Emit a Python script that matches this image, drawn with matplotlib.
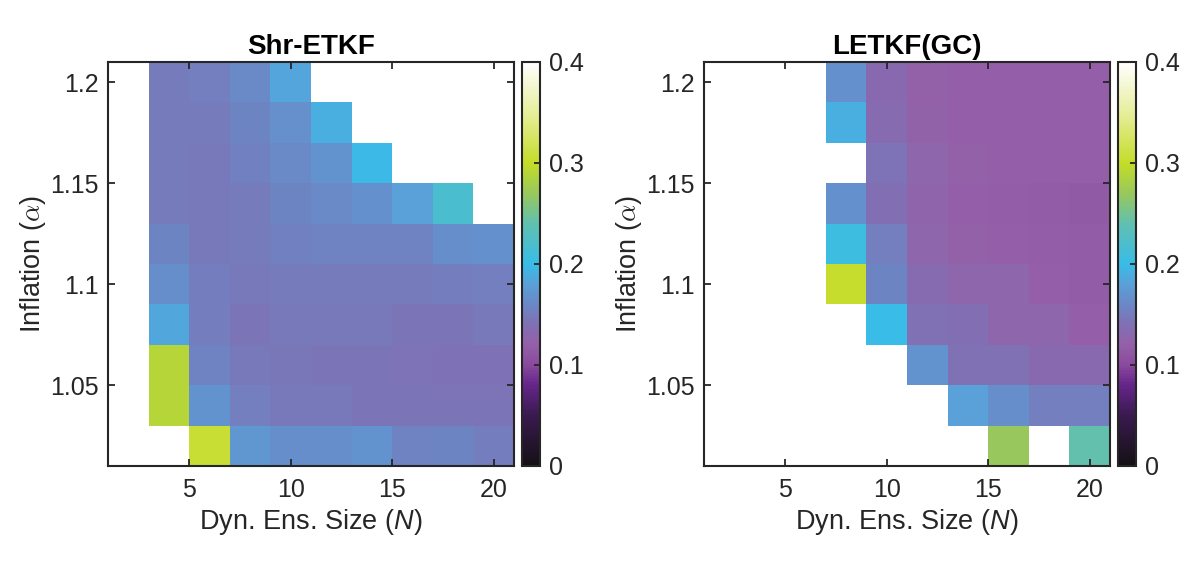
import numpy as np
import matplotlib
matplotlib.use("Agg")
import matplotlib.pyplot as plt
from matplotlib.colors import LinearSegmentedColormap

plt.rcParams["font.family"] = ["Liberation Sans", "DejaVu Sans"]
plt.rcParams["mathtext.fontset"] = "custom"
plt.rcParams["mathtext.it"] = "Liberation Sans:italic"
plt.rcParams["mathtext.rm"] = "Liberation Sans"

# grid: dynamic ensemble size and inflation factor
ens_size = [2, 4, 6, 8, 10, 12, 14, 16, 18, 20]
inflation = [1.02, 1.04, 1.06, 1.08, 1.10, 1.12, 1.14, 1.16, 1.18, 1.20]
nan = np.nan

# rows follow inflation (1.02 first), columns follow ens_size
shr_etkf = [
    [nan, nan, 0.305, 0.172, 0.165, 0.165, 0.170, 0.155, 0.157, 0.151],
    [nan, 0.290, 0.170, 0.153, 0.148, 0.147, 0.145, 0.145, 0.145, 0.145],
    [nan, 0.290, 0.155, 0.147, 0.146, 0.145, 0.144, 0.143, 0.142, 0.142],
    [nan, 0.185, 0.151, 0.145, 0.147, 0.147, 0.147, 0.145, 0.145, 0.147],
    [nan, 0.165, 0.151, 0.147, 0.149, 0.149, 0.150, 0.150, 0.151, 0.152],
    [nan, 0.157, 0.148, 0.149, 0.154, 0.156, 0.156, 0.156, 0.165, 0.168],
    [nan, 0.149, 0.147, 0.149, 0.157, 0.161, 0.168, 0.180, 0.218, nan],
    [nan, 0.150, 0.148, 0.154, 0.161, 0.170, 0.198, nan, nan, nan],
    [nan, 0.149, 0.149, 0.157, 0.166, 0.190, nan, nan, nan, nan],
    [nan, 0.150, 0.152, 0.161, 0.183, nan, nan, nan, nan, nan],
]

letkf_gc = [
    [nan, nan, nan, nan, nan, nan, nan, 0.270, nan, 0.242],
    [nan, nan, nan, nan, nan, nan, 0.180, 0.165, 0.153, 0.152],
    [nan, nan, nan, nan, nan, 0.170, 0.140, 0.140, 0.132, 0.132],
    [nan, nan, nan, nan, 0.200, 0.140, 0.138, 0.128, 0.128, 0.120],
    [nan, nan, nan, 0.302, 0.157, 0.133, 0.128, 0.128, 0.120, 0.117],
    [nan, nan, nan, 0.205, 0.152, 0.128, 0.121, 0.120, 0.118, 0.117],
    [nan, nan, nan, 0.168, 0.138, 0.125, 0.120, 0.118, 0.116, 0.115],
    [nan, nan, nan, nan, 0.143, 0.127, 0.121, 0.120, 0.120, 0.120],
    [nan, nan, nan, 0.190, 0.133, 0.122, 0.120, 0.120, 0.120, 0.119],
    [nan, nan, nan, 0.168, 0.132, 0.121, 0.120, 0.120, 0.120, 0.120],
]

titles = ["Shr-ETKF", "LETKF(GC)"]
cbar_ticks = [0, 0.1, 0.2, 0.3, 0.4]

# black -> purple -> blue -> cyan -> yellow-green -> white
anchors = [
    (0.00, "#141014"), (0.05, "#3a1a50"), (0.08, "#66268a"), (0.10, "#8a4a9e"),
    (0.12, "#9460a8"), (0.14, "#8070b4"), (0.16, "#6a88c6"), (0.18, "#5aa0d8"),
    (0.20, "#38bce8"), (0.24, "#60c0b0"), (0.27, "#98c85c"), (0.30, "#c4dc28"),
    (0.35, "#e6ee9a"), (0.40, "#ffffff"),
]
cmap = LinearSegmentedColormap.from_list("rmse", [(v / 0.4, c) for v, c in anchors])
cmap.set_bad("white")

fig = plt.figure(figsize=(12, 5.75), dpi=100)
ax_rects = [[0.09, 0.1896, 0.3383, 0.7026], [0.5867, 0.1896, 0.3383, 0.7026]]
cb_rects = [[0.4354, 0.1896, 0.015, 0.7026], [0.932, 0.1896, 0.015, 0.7026]]

x_edges = np.append(np.array(ens_size) - 1, ens_size[-1] + 1)
y_edges = np.append(np.array(inflation) - 0.01, inflation[-1] + 0.01)
tick_col = "#262626"

for data, title, rect, cb_rect in zip([shr_etkf, letkf_gc], titles, ax_rects, cb_rects):
    ax = fig.add_axes(rect)
    z = np.ma.masked_invalid(np.array(data))
    mesh = ax.pcolormesh(x_edges, y_edges, z, cmap=cmap, vmin=0, vmax=0.4)
    ax.set_xlim(1, 21)
    ax.set_ylim(1.01, 1.21)
    ax.set_xticks([5, 10, 15, 20])
    ax.set_yticks([1.05, 1.1, 1.15, 1.2])
    ax.set_yticklabels(["1.05", "1.1", "1.15", "1.2"])
    ax.tick_params(direction="in", top=True, right=True, length=5, width=1.3,
                   labelsize=18, colors=tick_col, pad=7)
    ax.tick_params(axis="x", pad=9)
    for sp in ax.spines.values():
        sp.set_color(tick_col)
        sp.set_linewidth(1.5)
    ax.set_title(title, fontsize=20, fontweight="bold", pad=6)
    ax.set_xlabel("Dyn. Ens. Size ($\\mathit{N}$)", fontsize=19.5, color=tick_col, labelpad=3)
    ax.set_ylabel("Inflation ($\\alpha$)", fontsize=19.5, color=tick_col, labelpad=1,
                  math_fontfamily="cm")

    cax = fig.add_axes(cb_rect)
    cb = fig.colorbar(mesh, cax=cax, ticks=cbar_ticks)
    cb.ax.set_yticklabels(["0", "0.1", "0.2", "0.3", "0.4"])
    cb.ax.tick_params(direction="in", length=4, width=1.3, labelsize=18,
                      colors=tick_col, pad=6)
    cb.outline.set_edgecolor(tick_col)
    cb.outline.set_linewidth(1.5)

fig.savefig("out.png", dpi=100)
